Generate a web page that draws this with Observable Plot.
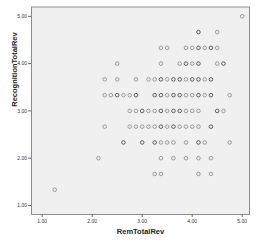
<!DOCTYPE html>
<html><head><meta charset="utf-8">
<script src="https://cdn.jsdelivr.net/npm/d3@7"></script>
<script src="https://cdn.jsdelivr.net/npm/@observablehq/plot@0.6"></script>
<style>body{margin:0;background:#fff}</style>
</head><body><div id="chart"></div>
<script>
const xLabel = "RemTotalRev";
const yLabel = "RecognitionTotalRev";
const tickValues = [1, 2, 3, 4, 5];
// rows of observed points: y value, x values, overplot count per x
const rowY = [5.0, 4.667, 4.333, 4.0, 3.667, 3.333, 3.0, 2.667, 2.333, 2.0, 1.667, 1.333];
const rowX = [
  [5.0],
  [4.125, 4.5],
  [3.375, 3.5, 3.875, 4.0, 4.125, 4.25, 4.375, 4.5],
  [2.5, 3.375, 3.75, 3.875, 4.0, 4.125, 4.5, 4.625],
  [2.25, 2.5, 2.875, 3.125, 3.25, 3.375, 3.5, 3.625, 3.75, 3.875, 4.0, 4.125, 4.25, 4.375],
  [2.25, 2.375, 2.5, 2.625, 2.75, 2.875, 3.25, 3.375, 3.5, 3.625, 3.75, 3.875, 4.0, 4.125, 4.25, 4.375, 4.75],
  [2.75, 2.875, 3.0, 3.125, 3.25, 3.375, 3.5, 3.625, 3.75, 3.875, 4.0, 4.125, 4.5, 4.625],
  [2.25, 2.75, 2.875, 3.0, 3.125, 3.25, 3.375, 3.5, 3.625, 3.75, 3.875, 4.0, 4.125, 4.375],
  [2.625, 3.0, 3.25, 3.375, 3.5, 3.625, 3.875, 4.125, 4.25, 4.75],
  [2.125, 3.375, 3.625, 3.875, 4.125, 4.375],
  [3.25, 3.375, 4.125, 4.375],
  [1.25]
];
const rowN = [
  [1],
  [2, 1],
  [1, 1, 1, 1, 2, 1, 2, 1],
  [1, 1, 1, 2, 1, 2, 1, 2],
  [1, 1, 1, 1, 1, 2, 1, 2, 2, 1, 2, 2, 1, 2],
  [1, 1, 2, 1, 1, 2, 2, 2, 1, 2, 2, 1, 1, 2, 1, 2, 1],
  [1, 1, 2, 1, 1, 2, 1, 2, 2, 1, 1, 1, 2, 1],
  [1, 1, 1, 1, 1, 1, 2, 1, 2, 1, 1, 1, 1, 2],
  [2, 2, 2, 1, 1, 1, 1, 2, 1, 1],
  [1, 1, 1, 1, 1, 1],
  [1, 1, 1, 1],
  [1]
];
const points = rowY.flatMap((y, i) => rowX[i].map((x, j) => ({x, y, n: rowN[i][j]})));

const chart = Plot.plot({
  width: 258, height: 248,
  marginLeft: 31, marginRight: 9, marginTop: 6.5, marginBottom: 34,
  style: {fontFamily: "Liberation Sans, Arial, sans-serif", background: "#fff", color: "#333"},
  x: {domain: [0.786, 5.146]},
  y: {domain: [0.81, 5.197]},
  marks: [
    Plot.frame({fill: "#f0f0f0", stroke: "#8c8c8c"}),
    Plot.axisX({ticks: tickValues, tickFormat: d3.format(".2f"), tickSize: 3, tickPadding: 2, fontSize: 5, label: null, stroke: "#666"}),
    Plot.axisY({ticks: tickValues, tickFormat: d3.format(".2f"), tickSize: 3, tickPadding: 1.5, fontSize: 5, label: null, stroke: "#666"}),
    Plot.dot(points, {x: "x", y: "y", r: 1.8, strokeWidth: 0.8, fill: "none",
      stroke: d => d.n > 1 ? "#3a3a3a" : "#858585"}),
    Plot.text([xLabel], {frameAnchor: "bottom", dy: 19, fontSize: 7.5, fontWeight: "bold", fill: "#222"}),
    Plot.text([yLabel], {frameAnchor: "left", dx: -17, dy: -4, rotate: -90, fontSize: 7.5, fontWeight: "bold", fill: "#222"})
  ]
});
document.getElementById("chart").appendChild(chart);
</script>
</body></html>
